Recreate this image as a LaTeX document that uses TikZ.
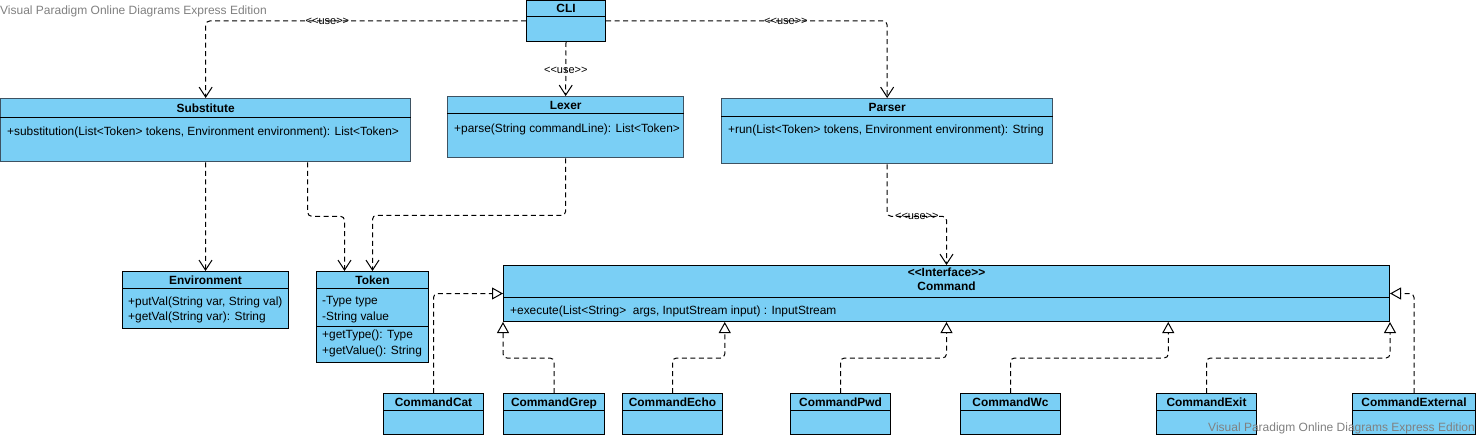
\documentclass[tikz,border=0pt]{standalone}
\usepackage{fontspec}
\setmainfont{Liberation Sans}
\usepackage{tikz}
\usetikzlibrary{arrows.meta,positioning,calc}
\definecolor{vpblue}{RGB}{122,207,245}
\definecolor{vpgray}{RGB}{128,128,128}
\definecolor{vpedge}{RGB}{62,82,98}
\newcommand{\sopen}{<\kern0pt<}
\newcommand{\sclose}{>\kern0pt>}
\tikzset{
  cls/.style={draw=black,line width=1pt,fill=vpblue,anchor=north west,inner sep=0pt},
  selcls/.style={cls,draw=vpedge,line width=1.3pt},
  head/.style={anchor=base,font=\bfseries\fontsize{11.9}{14}\selectfont,inner sep=0pt},
  memb/.style={anchor=base west,font=\fontsize{11.9}{16}\selectfont,inner sep=0pt},
  sep/.style={draw=black,line width=1pt},
  dep/.style={-{Straight Barb[length=10pt,width=13pt,line width=1pt]},line width=1pt,dash pattern=on 5pt off 3.5pt,rounded corners=4pt},
  real/.style={-{Triangle[open,fill=white,length=11pt,width=12pt,line width=1pt]},line width=1pt,dash pattern=on 5pt off 3.5pt,rounded corners=4pt},
  usetxt/.style={font=\fontsize{11}{12}\selectfont,inner sep=0pt},
  wmark/.style={text=vpgray,font=\fontsize{12}{14}\selectfont,inner sep=0pt}
}

\begin{document}
\begin{tikzpicture}[x=1pt,y=-1pt]
\useasboundingbox (0,0) rectangle (1478,436);
\node[wmark,anchor=base west] (wmtop) at (0,15) {Visual Paradigm Online Diagrams Express Edition};

\node[cls,minimum width=79,minimum height=41] (cli) at (526,0) {};
\node[head] (clih) at ([yshift=-13pt]cli.north) {CLI};
\node[selcls,minimum width=410,minimum height=63] (subst) at (0,98) {};
\node[head] (substh) at ([yshift=-14pt]subst.north) {Substitute};
\node[memb] (substm) at ([xshift=7pt,yshift=-37pt]subst.north west) {+substitution(List<Token> tokens, Environment environment): List<Token>};
\node[selcls,minimum width=236,minimum height=61] (lexer) at (447,96) {};
\node[head] (lexerh) at ([yshift=-13pt]lexer.north) {Lexer};
\node[memb] (lexerm) at ([xshift=7pt,yshift=-36pt]lexer.north west) {+parse(String commandLine): List<Token>};
\node[selcls,minimum width=331,minimum height=65] (parser) at (721,98) {};
\node[head] (parserh) at ([yshift=-13.5pt]parser.north) {Parser};
\node[memb] (parserm) at ([xshift=7pt,yshift=-35pt]parser.north west) {+run(List<Token> tokens, Environment environment): String};

\node[cls,minimum width=166,minimum height=57] (env) at (122,271) {};
\node[head] (envh) at ([yshift=-13pt]env.north) {Environment};
\node[memb] (envm1) at ([xshift=6pt,yshift=-34pt]env.north west) {+putVal(String var, String val)};
\node[memb] (envm2) at ([xshift=6pt,yshift=-49.5pt]env.north west) {+getVal(String var): String};
\node[cls,minimum width=112,minimum height=91] (token) at (316,271) {};
\node[head] (tokenh) at ([yshift=-13pt]token.north) {Token};
\node[memb] (tokena1) at ([xshift=6pt,yshift=-33pt]token.north west) {-Type type};
\node[memb] (tokena2) at ([xshift=6pt,yshift=-49pt]token.north west) {-String value};
\node[memb] (tokenm1) at ([xshift=6pt,yshift=-67pt]token.north west) {+getType(): Type};
\node[memb] (tokenm2) at ([xshift=6pt,yshift=-83pt]token.north west) {+getValue(): String};
\draw[sep] ([yshift=-55pt]token.north west) -- ([yshift=-55pt]token.north east);

\node[cls,minimum width=886,minimum height=56] (cmd) at (503,265) {};
\node[head] (cmdst) at ([yshift=-11.5pt]cmd.north) {\sopen Interface\sclose};
\node[head] (cmdh) at ([yshift=-25.5pt]cmd.north) {Command};
\node[memb] (cmdm) at ([xshift=7pt,yshift=-49pt]cmd.north west) {+execute(List<String>~ args, InputStream input) : InputStream};

\foreach \n/\h in {cli/17,subst/19,lexer/17,parser/18,env/17,token/17,cmd/32}
  \draw[sep] ([yshift=-\h pt]\n.north west) -- ([yshift=-\h pt]\n.north east);

\foreach \n/\x/\w/\lab in {cat/383/100/CommandCat,grep/503/101/CommandGrep,echo/622/100/CommandEcho,pwd/790/100/CommandPwd,wc/960/100/CommandWc,cexit/1156/100/CommandExit,cext/1352/123/CommandExternal} {
  \node[cls,minimum width=\w,minimum height=41] (\n) at (\x,393) {};
  \node[head] (\n-t) at ([yshift=-13pt]\n.north) {\lab};
  \draw[sep] ([yshift=-17pt]\n.north west) -- ([yshift=-17pt]\n.north east);
}

\draw[dep] (cli.west) -| node[usetxt,pos=0.31] (use1) {\sopen use\sclose} (subst.north);
\draw[dep] (cli.south) -- node[usetxt,pos=0.53] (use2) {\sopen use\sclose} (lexer.north);
\draw[dep] (cli.east) -| node[usetxt,pos=0.32] (use3) {\sopen use\sclose} (parser.north);
\draw[dep] (subst.south) -- (env.north);
\draw[dep] ([xshift=102pt]subst.south) -- ++(0,54) -| ([xshift=-28pt]token.north);
\draw[dep] (lexer.south) -- ++(0,57) -| (token.north);
\draw[dep] (parser.south) -- ++(0,52) -| node[usetxt,pos=0.25] (use4) {\sopen use\sclose} (cmd.north);

\draw[real] (cat.north) |- (cmd.west);
\foreach \n/\f in {grep/0,echo/0.25,pwd/0.5,wc/0.75,cexit/1}
  \draw[real] (\n.north) -- ++(0,-35) -| ($(cmd.south west)!\f!(cmd.south east)$);
\draw[real] (cext.north) |- (cmd.east);

\node[wmark,anchor=base east] (wmbot) at (1475,431) {Visual Paradigm Online Diagrams Express Edition};
\end{tikzpicture}
\end{document}
